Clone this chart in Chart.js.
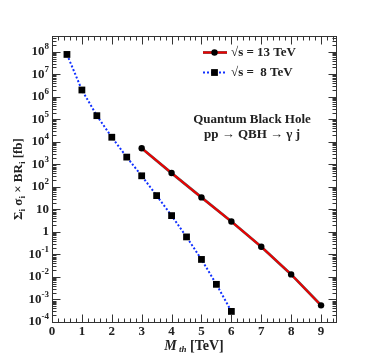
<!DOCTYPE html>
<html>
<head>
<meta charset="utf-8">
<script src="https://cdn.jsdelivr.net/npm/chart.js@4.4.0/dist/chart.umd.min.js"></script>
<style>
  html, body { margin: 0; padding: 0; background: #fff; }
</style>
</head>
<body>
<canvas id="qbh" width="374" height="359"></canvas>
<script>
// threshold mass M_th (TeV) for each energy
const mass13 = [3, 4, 5, 6, 7, 8, 9];
const mass8 = [0.5, 1, 1.5, 2, 2.5, 3, 3.5, 4, 4.5, 5, 5.5, 6];

// sum of sigma x BR (fb)
const xsec13 = [5200, 410, 34, 2.9, 0.22, 0.013, 5.5e-4];
const xsec8 = [7.6e7, 2.0e6, 1.45e5, 1.6e4, 2.1e3, 310, 41, 5.3, 0.60, 0.060, 4.7e-3, 2.95e-4];

// axis tick labels
const xTickLabels = ["0", "1", "2", "3", "4", "5", "6", "7", "8", "9"];
const yTickExps = [-4, -3, -2, -1, 0, 1, 2, 3, 4, 5, 6, 7, 8];

const legendLabels = ["\u221As = 13 TeV", "\u221As =  8 TeV"];
const noteLines = ["Quantum Black Hole", "pp \u2192 QBH \u2192 \u03B3 j"];

const SERIF = '"Liberation Serif", "Times New Roman", serif';
const INK = "#222";
const RED = "#ee0000";
const EDGE = "#555";

function fnt(size, style) {
  return (style || "bold") + " " + size + "px " + SERIF;
}

// draw a run of text pieces (for sub/superscripts)
function richText(ctx, parts, x, y, align) {
  let w = 0;
  parts.forEach(p => { ctx.font = fnt(p.size, p.style); w += ctx.measureText(p.t).width; });
  let cx = align === "right" ? x - w : align === "center" ? x - w / 2 : x;
  ctx.textAlign = "left";
  ctx.textBaseline = "middle";
  parts.forEach(p => {
    ctx.font = fnt(p.size, p.style);
    ctx.fillText(p.t, cx, y + (p.dy || 0));
    cx += ctx.measureText(p.t).width;
  });
}

const toPoints = (xs, ys) => xs.map((x, i) => ({ x: x, y: ys[i] }));

// frame, inward ticks, labels, legend and note
const decorations = {
  id: "decorations",
  afterDatasetsDraw(chart) {
    const ctx = chart.ctx;
    const a = chart.chartArea;
    const xs = chart.scales.x, ys = chart.scales.y;
    const L = Math.round(a.left) + 0.5, R = Math.round(a.right) + 0.5;
    const T = Math.round(a.top) + 0.5, B = Math.round(a.bottom) + 0.5;

    ctx.save();
    ctx.strokeStyle = "#333";
    ctx.lineWidth = 1;
    ctx.strokeRect(L, T, R - L, B - T);

    ctx.beginPath();
    // x ticks, bottom and top
    for (let k = 0; k <= 47; k++) {
      const v = k * 0.2;
      if (v > xs.max) break;
      const px = Math.round(xs.getPixelForValue(v)) + 0.5;
      const len = k % 5 === 0 ? 8 : 4;
      ctx.moveTo(px, B); ctx.lineTo(px, B - len);
      ctx.moveTo(px, T); ctx.lineTo(px, T + len);
    }
    // y ticks, left and right
    yTickExps.forEach(e => {
      for (let d = 1; d <= 9; d++) {
        const v = d * Math.pow(10, e);
        if (v > ys.max) break;
        const py = Math.round(ys.getPixelForValue(v)) + 0.5;
        const len = d === 1 ? 8 : 4;
        ctx.moveTo(L, py); ctx.lineTo(L + len, py);
        ctx.moveTo(R, py); ctx.lineTo(R - len, py);
      }
    });
    ctx.stroke();

    ctx.fillStyle = INK;
    // x tick labels
    ctx.font = fnt(13);
    ctx.textAlign = "center";
    ctx.textBaseline = "middle";
    xTickLabels.forEach(lab => {
      ctx.fillText(lab, xs.getPixelForValue(Number(lab)), a.bottom + 10);
    });
    // y tick labels
    yTickExps.forEach(e => {
      const py = ys.getPixelForValue(Math.pow(10, e));
      let parts;
      if (e === 0) parts = [{ t: "1", size: 13 }];
      else if (e === 1) parts = [{ t: "10", size: 13 }];
      else parts = [{ t: "10", size: 13 }, { t: String(e), size: 9, dy: -5 }];
      richText(ctx, parts, a.left - 3, py, "right");
    });

    // axis titles
    richText(ctx, [
      { t: "M", size: 14, style: "italic bold" },
      { t: " th", size: 9, style: "italic bold", dy: 4 },
      { t: " [TeV]", size: 14 }
    ], (a.left + a.right) / 2, a.bottom + 24, "center");

    ctx.save();
    ctx.translate(19, (a.top + a.bottom) / 2);
    ctx.rotate(-Math.PI / 2);
    richText(ctx, [
      { t: "\u03A3", size: 13 }, { t: "i", size: 9, dy: 4 },
      { t: " \u03C3", size: 13 }, { t: "i", size: 9, dy: 4 },
      { t: " \u00D7 BR", size: 13 }, { t: "i", size: 9, dy: 4 },
      { t: " [fb]", size: 13 }
    ], 0, 0, "center");
    ctx.restore();

    // legend
    const lx0 = 203, lx1 = 227, mx = 214.5;
    const ly = [52.5, 72.5];
    ctx.lineCap = "butt";
    ctx.strokeStyle = EDGE;
    ctx.lineWidth = 2.8;
    ctx.beginPath(); ctx.moveTo(lx0, ly[0]); ctx.lineTo(lx1, ly[0]); ctx.stroke();
    ctx.strokeStyle = RED;
    ctx.lineWidth = 2;
    ctx.beginPath(); ctx.moveTo(lx0, ly[0]); ctx.lineTo(lx1, ly[0]); ctx.stroke();
    ctx.fillStyle = "#000";
    ctx.beginPath(); ctx.arc(mx, ly[0], 3.2, 0, Math.PI * 2); ctx.fill();

    ctx.strokeStyle = "#1030ff";
    ctx.lineWidth = 2;
    ctx.setLineDash([2, 2]);
    ctx.beginPath(); ctx.moveTo(lx0, ly[1]); ctx.lineTo(lx1, ly[1]); ctx.stroke();
    ctx.setLineDash([]);
    ctx.fillRect(mx - 3.4, ly[1] - 3.4, 6.8, 6.8);

    ctx.fillStyle = INK;
    ctx.font = fnt(13);
    ctx.textAlign = "left";
    ctx.textBaseline = "middle";
    ctx.fillText(legendLabels[0], 231, ly[0]);
    ctx.fillText(legendLabels[1], 231, ly[1]);

    // process note
    ctx.textAlign = "center";
    ctx.fillText(noteLines[0], 252, 120);
    ctx.fillText(noteLines[1], 252, 135);
    ctx.restore();
  }
};

new Chart(document.getElementById("qbh"), {
  type: "line",
  plugins: [decorations],
  data: {
    datasets: [
      {
        label: legendLabels[0],
        data: toPoints(mass13, xsec13),
        borderColor: RED,
        borderWidth: 2,
        pointStyle: "circle",
        pointRadius: 3.2,
        pointBackgroundColor: "#000",
        pointBorderColor: "#000",
        pointBorderWidth: 0,
        order: 0
      },
      {
        // dark edge under the red curve
        label: "edge",
        data: toPoints(mass13, xsec13),
        borderColor: EDGE,
        borderWidth: 2.8,
        pointRadius: 0,
        order: 2
      },
      {
        label: legendLabels[1],
        data: toPoints(mass8, xsec8),
        borderColor: "#1030ff",
        borderWidth: 2,
        borderDash: [2, 2],
        pointStyle: "rect",
        pointRadius: 4.8,
        pointBackgroundColor: "#000",
        pointBorderColor: "#000",
        pointBorderWidth: 0,
        order: 1
      }
    ]
  },
  options: {
    responsive: false,
    animation: false,
    layout: { padding: { left: 52, top: 36, right: 38, bottom: 37 } },
    scales: {
      x: { type: "linear", min: 0, max: 9.5, display: false },
      y: { type: "logarithmic", min: 1e-4, max: 5e8, display: false }
    },
    plugins: {
      legend: { display: false },
      tooltip: { enabled: false }
    }
  }
});
</script>
</body>
</html>
